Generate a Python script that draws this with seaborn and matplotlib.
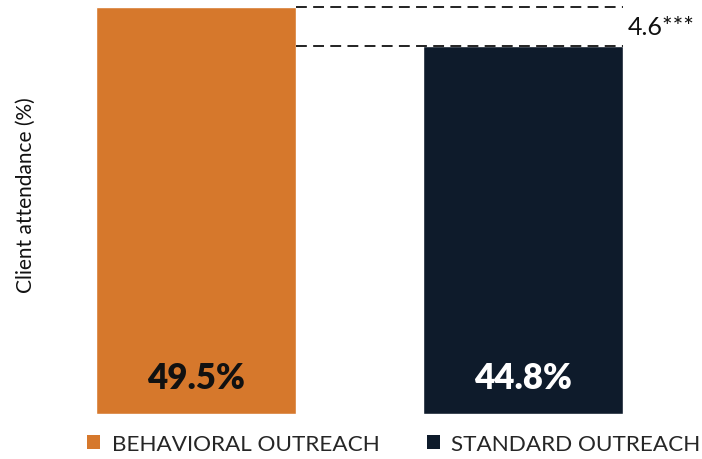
# Behavioral vs standard outreach: client attendance bar chart
import matplotlib
matplotlib.use("Agg")
import matplotlib.pyplot as plt
from matplotlib.patches import Patch
import pandas as pd
import seaborn as sns

groups = ["BEHAVIORAL OUTREACH", "STANDARD OUTREACH"]
attendance = [49.5, 44.8]
value_labels = ["49.5%", "44.8%"]
diff_label = "4.6***"
colors = ["#D6782C", "#0E1B2B"]
label_colors = ["#111111", "#FFFFFF"]

sns.set_style("white")
plt.rcParams["font.family"] = ["Lato", "DejaVu Sans"]

df = pd.DataFrame({"group": groups, "attendance": attendance})

fig = plt.figure(figsize=(7.02, 4.6), dpi=100)
ax = fig.add_axes([96 / 702, 45 / 460, 606 / 702, 407 / 460])

sns.barplot(data=df, x="group", y="attendance", hue="group", palette=colors,
            width=0.612, saturation=1, legend=False, ax=ax)

ax.set_xlim(-0.306, 1.547)
ax.set_ylim(0, max(attendance))
sns.despine(ax=ax, left=True, bottom=True)
ax.set_xticks([])
ax.set_yticks([])
ax.set_xlabel("")
ax.set_ylabel("Client attendance (%)", fontsize=15, color="#111111")
ax.yaxis.set_label_coords(-0.099, 0.54)

# value labels inside the bars
bars = ax.patches[:2]
for bar, txt, c in zip(bars, value_labels, label_colors):
    ax.text(bar.get_x() + bar.get_width() / 2, 4.4, txt, ha="center", va="center",
            fontsize=25, fontweight="heavy", color=c)

# dashed difference bracket
x0 = bars[0].get_x() + bars[0].get_width()
x1 = bars[1].get_x() + bars[1].get_width()
for bar in bars:
    ax.plot([x0, x1], [bar.get_height()] * 2, ls=(0, (6, 3.5)), color="#111111",
            lw=1.3, clip_on=False, zorder=3)
ax.text(x1 + 0.015, sum(b.get_height() for b in bars) / 2, diff_label,
        ha="left", va="center", fontsize=18, color="#111111")

handles = [Patch(facecolor=c, edgecolor="none") for c in colors]
fig.legend(handles, groups, loc="center", bbox_to_anchor=(0.561, 0.033), ncol=2,
           frameon=False, fontsize=16.2, handlelength=0.6, handleheight=0.6,
           handletextpad=0.5, columnspacing=2.1, borderaxespad=0)

fig.savefig("out.png", dpi=100)
